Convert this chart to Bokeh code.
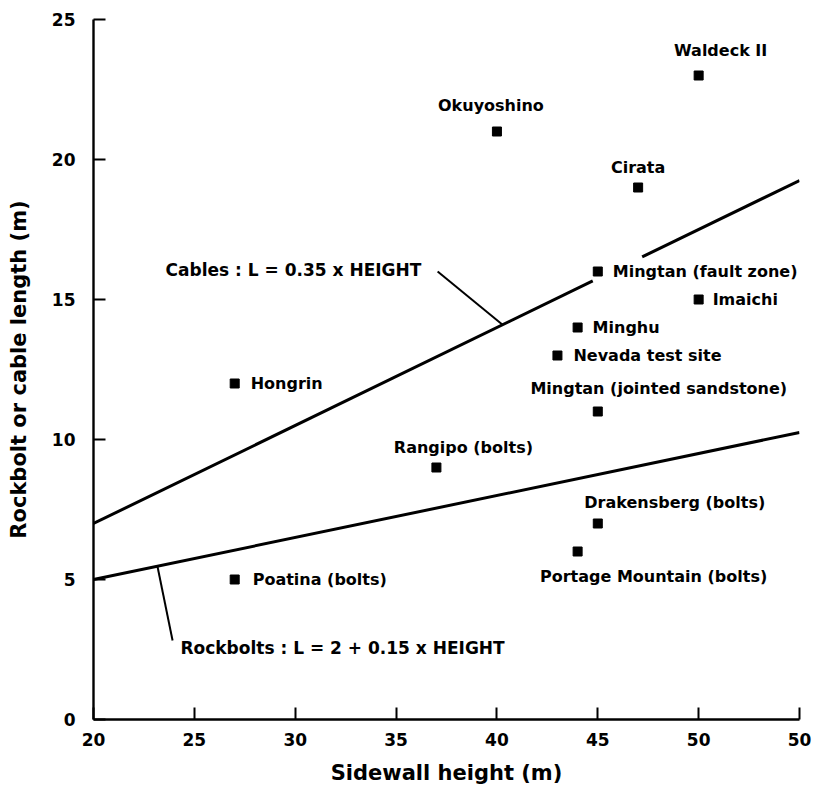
from bokeh.plotting import figure
from bokeh.models import Range1d, FixedTicker, ColumnDataSource
from bokeh.core.properties import value
from bokeh.embed import file_html
from bokeh.resources import INLINE

# ---- data ----
sites = ["Waldeck II", "Okuyoshino", "Cirata", "Mingtan (fault zone)", "Imaichi",
         "Minghu", "Nevada test site", "Hongrin", "Mingtan (jointed sandstone)",
         "Rangipo (bolts)", "Drakensberg (bolts)", "Portage Mountain (bolts)",
         "Poatina (bolts)"]
height_m = [50, 40, 47, 45, 50, 44, 43, 27, 45, 37, 45, 44, 27]
length_m = [23, 21, 19, 16, 15, 14, 13, 12, 11, 9, 7, 6, 5]

# label placement (screen px offsets from marker, anchor)
label_dx = [22, -6, 0, 15, 14, 15, 16, 16, 61, 27, 77, 76, 18]
label_dy = [-25, -26, -20, 0, 0, 0, 0, 0, -23, -20, -21, 25, 0]
label_align = ["center", "center", "center", "left", "left", "left", "left", "left",
               "center", "center", "center", "center", "left"]

x_ticks = [20, 25, 30, 35, 40, 45, 50, 55]
x_tick_labels = ["20", "25", "30", "35", "40", "45", "50", "50"]
y_ticks = [0, 5, 10, 15, 20, 25]

# design lines: L = a + b * HEIGHT
cable_a, cable_b = 0.0, 0.35
bolt_a, bolt_b = 2.0, 0.15
cable_segments_h = [(20, 44.75), (47.2, 55)]   # gap around Mingtan label
bolt_segment_h = (20, 55)

FONT_NAME = "DejaVu Sans"
FONT = value(FONT_NAME)

p = figure(width=812, height=786, output_backend="svg", toolbar_location=None,
           x_range=Range1d(20, 55), y_range=Range1d(0, 25),
           min_border_left=93, min_border_right=13, min_border_top=19,
           min_border_bottom=67, frame_width=706, frame_height=700)
p.outline_line_color = None
p.grid.visible = False
p.background_fill_color = "white"
p.border_fill_color = "white"

# design lines
for h0, h1 in cable_segments_h:
    p.line([h0, h1], [cable_a + cable_b * h0, cable_a + cable_b * h1],
           line_color="black", line_width=3)
bh0, bh1 = bolt_segment_h
p.line([bh0, bh1], [bolt_a + bolt_b * bh0, bolt_a + bolt_b * bh1],
       line_color="black", line_width=3)

# leader lines + equation annotations
cab_leader_h = [37.06, 40.28]
cab_leader_y = [16.0, cable_a + cable_b * 40.28]
p.line(cab_leader_h, cab_leader_y, line_color="black", line_width=2)
bolt_leader_h = [23.17, 23.92]
bolt_leader_y = [bolt_a + bolt_b * 23.17, 2.82]
p.line(bolt_leader_h, bolt_leader_y, line_color="black", line_width=2)

p.text(x=[23.57], y=[16.04], text=["Cables : L = 0.35 x HEIGHT"],
       text_font=FONT, text_font_size="17px", text_font_style="bold",
       text_align="left", text_baseline="middle", text_color="black")
p.text(x=[24.31], y=[2.57], text=["Rockbolts : L = 2 + 0.15 x HEIGHT"],
       text_font=FONT, text_font_size="17px", text_font_style="bold",
       text_align="left", text_baseline="middle", text_color="black")

# points
src = ColumnDataSource(dict(x=height_m, y=length_m, name=sites,
                            dx=label_dx, dy=label_dy, al=label_align))
p.scatter("x", "y", source=src, marker="square", size=9,
          fill_color="black", line_color="black")
p.text("x", "y", text="name", source=src, x_offset="dx", y_offset="dy",
       text_align="al", text_baseline="middle", text_font=FONT,
       text_font_size="16px", text_font_style="bold", text_color="black")

# axes
p.xaxis.ticker = FixedTicker(ticks=x_ticks)
p.xaxis.major_label_overrides = {t: l for t, l in zip(x_ticks, x_tick_labels)}
p.yaxis.ticker = FixedTicker(ticks=y_ticks)
for ax in (p.xaxis, p.yaxis):
    ax.axis_line_width = 2.4
    ax.axis_line_color = "black"
    ax.major_tick_line_width = 2
    ax.major_tick_line_color = "black"
    ax.major_tick_in = 12
    ax.major_tick_out = 0
    ax.minor_tick_line_color = None
    ax.major_label_text_font = FONT_NAME
    ax.major_label_text_font_size = "17px"
    ax.major_label_text_font_style = "bold"
    ax.major_label_text_color = "black"
    ax.axis_label_text_font = FONT_NAME
    ax.axis_label_text_font_size = "21px"
    ax.axis_label_text_font_style = "bold"
    ax.axis_label_text_color = "black"
p.xaxis.axis_label = "Sidewall height (m)"
p.yaxis.axis_label = "Rockbolt or cable length (m)"
p.xaxis.major_label_standoff = 13
p.xaxis.axis_label_standoff = 12
p.yaxis.major_label_standoff = 18
p.yaxis.axis_label_standoff = 18

open("out.html", "w").write(file_html(p, INLINE))
